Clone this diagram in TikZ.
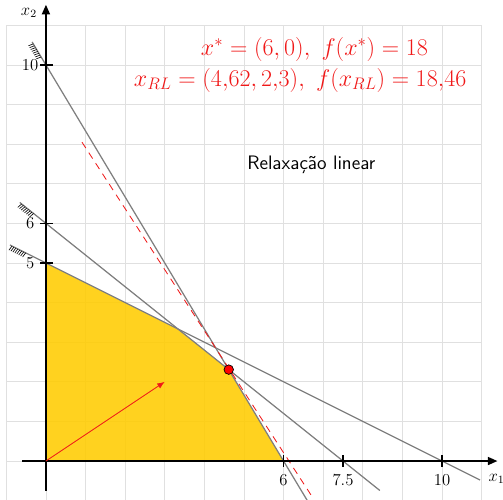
\documentclass[tikz,border=0pt]{standalone}
\usepackage{amsmath}
\usepackage{tikz}
\usepackage{xcolor}
\usetikzlibrary{arrows.meta,decorations.markings}
\definecolor{region}{HTML}{FFCC00}
\definecolor{boundgray}{HTML}{7F7F7F}
\definecolor{optred}{HTML}{F01818}

\begin{document}
\begin{tikzpicture}[
        gridline/.style={draw=black!12, line width=0.5pt},
        axis/.style={line width=1.2pt, -{Triangle[length=2.4mm, width=2mm]}},
        tickmark/.style={line width=1.2pt},
        ticklbl/.style={font=\large, inner sep=1pt},
        bound/.style={draw=boundgray, line width=0.9pt,
            postaction={decorate, decoration={markings,
                mark=between positions 0.06cm and 0.45cm step 0.055cm with
                {\draw[black, line width=0.45pt] (0,0) -- (-100:0.13);}}}},
        level/.style={draw=optred, line width=0.6pt, dash pattern=on 5pt off 4pt},
        grad/.style={draw=optred, line width=0.6pt,
                     -{Latex[length=1.9mm, width=1.5mm]}},
        optdot/.style={circle, fill=red, draw=black, line width=0.5pt,
                       minimum size=2.4mm, inner sep=0pt},
        info/.style={text=optred, font=\LARGE}
    ]
    \useasboundingbox (-1.16,-0.96) rectangle (11.54,11.64);

    % ---- Grid ----
    \draw[gridline] (-1,-1) grid (11,11);

    % ---- Feasible region ----
    \fill[region, fill opacity=0.88] (0,0) -- (0,5) -- (10/3,10/3)
        -- (60/13,30/13) -- (6,0) -- cycle;

    % ---- Constraint lines ----
    \coordinate (c1a) at (-0.35,10.583);
    \coordinate (c1b) at (6.6,-1);
    \coordinate (c2a) at (-0.66,6.528);
    \coordinate (c2b) at (8.43,-0.744);
    \coordinate (c3a) at (-0.91,5.455);
    \coordinate (c3b) at (10.96,-0.48);
    \draw[bound] (c1a) -- (c1b);
    \draw[bound] (c2a) -- (c2b);
    \draw[bound] (c3a) -- (c3b);

    % ---- Objective level line ----
    \coordinate (fa) at (0.91,8.05);
    \coordinate (fb) at (6.74,-0.93);
    \draw[level] (fa) -- (fb);

    % ---- Axes ----
    \coordinate (O) at (0,0);
    \coordinate (xs) at (-0.6,0);
    \coordinate (xe) at (11.4,0);
    \coordinate (ys) at (0,-0.75);
    \coordinate (ye) at (0,11.52);
    \draw[axis] (xs) -- (xe);
    \draw[axis] (ys) -- (ye);
    \node[font=\large, anchor=west] (x1lbl) at (11.05,-0.45) {$x_1$};
    \node[font=\large] (x2lbl) at (-0.43,11.31) {$x_2$};

    % ---- Ticks ----
    \foreach \v in {6,7.5,10} {
        \draw[tickmark] (\v,-0.14) -- (\v,0.14);
        \node[ticklbl] (xt\v) at (\v,-0.48) {\v};
    }
    \foreach \v in {5,6,10} {
        \draw[tickmark] (-0.15,\v) -- (0.17,\v);
        \node[ticklbl] (yt\v) at (-0.4,\v) {\v};
    }

    % ---- Gradient and optimum ----
    \coordinate (g) at (3,2);
    \draw[grad] (O) -- (g);
    \node[optdot] (xrl) at (60/13,30/13) {};

    % ---- Labels ----
    \node[info] (opt) at (6.78,10.4) {$x^* = (6,0),\ f(x^*) = 18$};
    \node[info] (rl) at (6.42,9.62)
        {$x_{RL} = (4{,}62, 2{,}3),\ f(x_{RL}) = 18{,}46$};
    \node[font=\sffamily\fontsize{14}{17}\selectfont] (relax) at (6.7,7.47)
        {Relaxação linear};
    \end{tikzpicture}
\end{document}
